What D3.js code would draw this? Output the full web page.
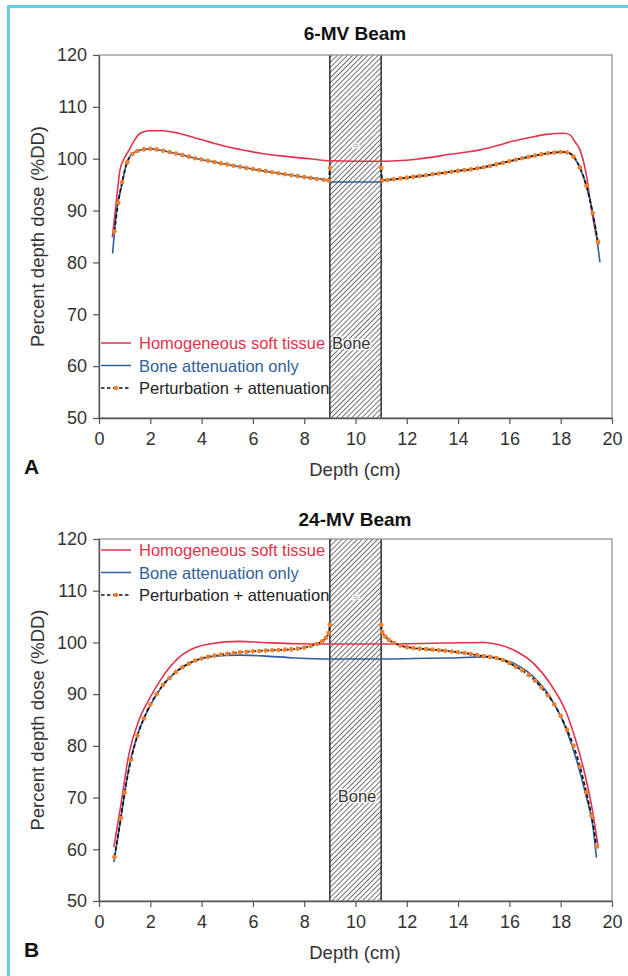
<!DOCTYPE html>
<html>
<head>
<meta charset="utf-8">
<script src="https://cdn.jsdelivr.net/npm/d3@7"></script>
<style>
  body { margin: 0; background: #fff; }
  svg { display: block; font-family: "Liberation Sans", Arial, sans-serif; }
</style>
</head>
<body>
<div id="chart"></div>
<script>
// ---- data: [depth cm, %DD] ----
var depthTicks = [0, 2, 4, 6, 8, 10, 12, 14, 16, 18, 20];
var doseTicks = [50, 60, 70, 80, 90, 100, 110, 120];
var boneRange = [9, 11];
var seriesNames = ["Homogeneous soft tissue", "Bone attenuation only", "Perturbation + attenuation"];

// 6-MV beam
var softA = [[0.52,84.8],[0.7,93],[0.82,97.9],[0.99,100.1],[1.14,101.4],[1.35,103.3],[1.53,104.6],[1.75,105.2],[1.95,105.4],[2.45,105.4],
  [3.1,104.9],[3.75,104.0],[4.4,103.1],[5.05,102.25],[5.7,101.6],[6.35,101.0],[7.0,100.6],[7.65,100.25],[8.3,99.95],[9.0,99.6],
  [11.0,99.5],[11.6,99.6],[12.3,99.85],[13.0,100.3],[13.6,100.8],[14.2,101.2],[14.85,101.7],[15.5,102.5],[16.15,103.4],[16.8,104.1],
  [17.45,104.7],[18.1,104.9],[18.36,104.6],[18.55,103.3],[18.75,101.7],[19.01,96.6],[19.2,90.2],[19.4,85.0],[19.5,83.5]];
var boneA = [[0.53,81.7],[0.69,90.2],[0.88,94.7],[1.08,99.2],[1.27,100.8],[1.53,101.6],[1.99,101.9],[2.44,101.6],[3.1,100.9],[3.74,100.1],
  [4.4,99.45],[5.04,98.85],[5.7,98.25],[6.34,97.7],[7.0,97.2],[7.64,96.7],[8.3,96.25],[8.95,95.8],[9.05,95.5],[10.95,95.5],
  [11.05,95.8],[11.6,96.1],[12.3,96.5],[13.0,97.0],[13.6,97.4],[14.2,97.8],[14.85,98.2],[15.5,99.0],[16.15,99.7],[16.8,100.4],
  [17.45,101.0],[18.1,101.3],[18.36,101.1],[18.62,99.5],[18.88,96.6],[19.14,92.1],[19.34,87],[19.53,80]];
var pertA1 = [[0.6,86],[0.75,91.5],[0.9,95.5],[1.1,99.3],[1.3,100.9],[1.5,101.5],[1.75,101.8],[2.0,101.9],[2.25,101.8],[2.5,101.55],
  [2.75,101.3],[3.0,101.0],[3.25,100.7],[3.5,100.4],[3.75,100.1],[4.0,99.85],[4.25,99.6],[4.5,99.35],[4.75,99.1],[5.0,98.9],
  [5.25,98.65],[5.5,98.45],[5.75,98.2],[6.0,98.0],[6.25,97.8],[6.5,97.6],[6.75,97.4],[7.0,97.2],[7.25,97.0],[7.5,96.8],
  [7.75,96.65],[8.0,96.45],[8.25,96.3],[8.5,96.1],[8.75,95.95],[8.95,95.8],[9.0,98.2]];
var pertA2 = [[11.0,98.2],[11.05,95.8],[11.25,95.9],[11.5,96.05],[11.75,96.2],[12.0,96.35],[12.25,96.5],[12.5,96.65],[12.75,96.8],[13.0,97.0],
  [13.25,97.15],[13.5,97.3],[13.75,97.5],[14.0,97.65],[14.25,97.8],[14.5,97.95],[14.75,98.15],[15.0,98.35],[15.25,98.6],[15.5,98.9],
  [15.75,99.2],[16.0,99.5],[16.25,99.8],[16.5,100.1],[16.75,100.35],[17.0,100.6],[17.25,100.85],[17.5,101.05],[17.75,101.2],[18.0,101.3],
  [18.25,101.2],[18.5,100.4],[18.75,98.3],[19.0,94.8],[19.25,89.5],[19.45,84]];

// 24-MV beam
var softB = [[0.58,60.4],[0.84,68.2],[1.17,78.5],[1.56,85],[2.01,89.5],[2.46,93.2],[3.1,97.0],[3.76,99.0],[4.41,99.8],[5.45,100.2],
  [6.36,100.0],[7.65,99.75],[8.95,99.7],[11.05,99.7],[12.0,99.75],[13.0,99.85],[13.68,99.9],[14.98,100.0],[15.63,99.5],[16.28,98.25],
  [16.93,96],[17.58,92.1],[18.23,86.3],[18.62,80.5],[19.0,73.3],[19.26,66.9],[19.46,60.4]];
var boneB = [[0.58,57.5],[0.84,65.6],[1.17,75.9],[1.56,83],[2.01,87.9],[2.46,91.5],[3.1,94.7],[3.76,96.5],[4.41,97.3],[5.45,97.55],
  [6.36,97.4],[7.65,97.0],[8.95,96.8],[11.05,96.8],[12.3,96.9],[13.68,97.0],[14.98,97.2],[15.63,96.8],[16.28,95.7],[16.93,93.4],
  [17.58,89.5],[18.23,83],[18.62,77.2],[19.0,70.1],[19.26,64.3],[19.39,58.4]];
var pertB1 = [[0.6,58.5],[0.85,66],[1.0,71],[1.25,77.3],[1.5,82],[1.75,85.3],[2.0,88],[2.25,90],[2.5,91.8],[2.75,93.1],
  [3.0,94.3],[3.25,95.2],[3.5,95.9],[3.75,96.5],[4.0,96.9],[4.25,97.2],[4.5,97.45],[4.75,97.65],[5.0,97.8],[5.25,97.95],
  [5.5,98.1],[5.75,98.2],[6.0,98.3],[6.25,98.35],[6.5,98.45],[6.75,98.5],[7.0,98.55],[7.25,98.6],[7.5,98.65],[7.75,98.8],
  [8.0,99.0],[8.25,99.3],[8.5,99.7],[8.7,100.2],[8.85,100.9],[8.95,101.8],[9.0,103.4]];
var pertB2 = [[11.0,103.4],[11.05,102],[11.15,101.2],[11.3,100.5],[11.5,99.9],[11.75,99.4],[12.0,99.1],[12.25,98.9],[12.5,98.8],[12.75,98.7],
  [13.0,98.6],[13.25,98.5],[13.5,98.4],[13.75,98.25],[14.0,98.1],[14.25,97.95],[14.5,97.75],[14.75,97.55],[15.0,97.35],[15.25,97.2],
  [15.5,97.0],[15.75,96.6],[16.0,96.0],[16.25,95.3],[16.5,94.6],[16.75,93.7],[17.0,92.6],[17.25,91.3],[17.5,89.8],[17.75,88.0],
  [18.0,85.8],[18.25,83.1],[18.5,80.0],[18.75,76.0],[19.0,71.0],[19.2,66.5],[19.4,60.5]];

var red = "#e5324b", blue = "#2f5f9a", orange = "#f07f2e";

var width = 628, height = 976;
var svg = d3.select("#chart").append("svg")
    .attr("width", width).attr("height", height);

svg.append("rect").attr("width", width).attr("height", height).attr("fill", "#fff");

// hatch for the bone slab
var defs = svg.append("defs");
defs.append("pattern")
    .attr("id", "hatch")
    .attr("patternUnits", "userSpaceOnUse")
    .attr("width", 3.6).attr("height", 3.6)
    .attr("patternTransform", "rotate(45)")
    .append("line")
    .attr("x1", 0).attr("y1", 0).attr("x2", 0).attr("y2", 3.6)
    .attr("stroke", "#2a2a2a").attr("stroke-width", 1.3);

// cyan frame round the figure
svg.append("path")
    .attr("d", "M8.5,976 L8.5,6.5 L628,6.5")
    .attr("fill", "none")
    .attr("stroke", "#5bd3e7")
    .attr("stroke-width", 3);

function drawPanel(p) {
    var x = d3.scaleLinear().domain([0, 20]).range([99, 612]);
    var y = d3.scaleLinear().domain([50, 120]).range([p.bottom, p.top]);
    var g = svg.append("g");

    // bone slab
    g.append("rect")
        .attr("x", x(boneRange[0])).attr("y", y(120))
        .attr("width", x(boneRange[1]) - x(boneRange[0]))
        .attr("height", y(50) - y(120))
        .attr("fill", "url(#hatch)");
    boneRange.forEach(function(b) {
        g.append("line")
            .attr("x1", x(b)).attr("x2", x(b))
            .attr("y1", y(120)).attr("y2", y(50))
            .attr("stroke", "#222").attr("stroke-width", 1.4);
    });
    g.append("text")
        .attr("x", x(10)).attr("y", y(p.tildeAt))
        .attr("text-anchor", "middle")
        .attr("font-size", 11).attr("fill", "#aaa")
        .attr("stroke", "#fff").attr("stroke-width", 2).attr("paint-order", "stroke")
        .text("≈");

    // frame
    g.append("rect")
        .attr("x", x(0)).attr("y", y(120))
        .attr("width", x(20) - x(0)).attr("height", y(50) - y(120))
        .attr("fill", "none").attr("stroke", "#8a8a8a").attr("stroke-width", 1.2);

    // axes
    var ax = g.append("g")
        .attr("transform", "translate(0," + y(50) + ")")
        .call(d3.axisBottom(x).tickValues(depthTicks).tickSize(6).tickPadding(8).tickSizeOuter(0));
    var ay = g.append("g")
        .attr("transform", "translate(" + x(0) + ",0)")
        .call(d3.axisLeft(y).tickValues(doseTicks).tickSize(6).tickPadding(6).tickSizeOuter(0));
    [ax, ay].forEach(function(a) {
        a.select(".domain").attr("stroke", "#555").attr("stroke-width", 1.3);
        a.selectAll(".tick line").attr("stroke", "#555").attr("stroke-width", 1.2);
        a.selectAll(".tick text").attr("font-size", 18).attr("fill", "#333")
            .attr("font-family", "Liberation Sans, Arial, sans-serif");
    });

    // curves
    var line = d3.line()
        .x(function(d) { return x(d[0]); })
        .y(function(d) { return y(d[1]); })
        .curve(d3.curveMonotoneX);

    g.append("path").datum(p.soft)
        .attr("fill", "none").attr("stroke", red).attr("stroke-width", 1.6)
        .attr("d", line);
    g.append("path").datum(p.bone)
        .attr("fill", "none").attr("stroke", blue).attr("stroke-width", 1.6)
        .attr("d", line);
    p.pert.forEach(function(seg) {
        g.append("path").datum(seg)
            .attr("fill", "none").attr("stroke", "#111").attr("stroke-width", 1.7)
            .attr("stroke-dasharray", "4,2.5")
            .attr("d", line);
        g.selectAll(null).data(seg).enter().append("circle")
            .attr("cx", function(d) { return x(d[0]); })
            .attr("cy", function(d) { return y(d[1]); })
            .attr("r", 2.3)
            .attr("fill", orange);
    });

    // legend
    var lg = g.append("g");
    var colors = [red, blue, "#222"];
    seriesNames.forEach(function(name, i) {
        var ly = p.legendY + i * 22.5;
        lg.append("line")
            .attr("x1", 101).attr("x2", 131).attr("y1", ly).attr("y2", ly)
            .attr("stroke", i < 2 ? colors[i] : "#111")
            .attr("stroke-width", 1.5)
            .attr("stroke-dasharray", i == 2 ? "3.5,2.5" : null);
        if (i == 2) {
            lg.append("circle").attr("cx", 116).attr("cy", ly).attr("r", 2.3).attr("fill", orange);
        }
        lg.append("text")
            .attr("x", 139).attr("y", ly + 6)
            .attr("font-size", 16.5)
            .attr("fill", i == 0 ? red : (i == 1 ? blue : "#222"))
            .text(name);
    });

    // bone label
    g.append("text")
        .attr("x", p.boneLabel[0]).attr("y", p.boneLabel[1])
        .attr("text-anchor", p.boneAnchor)
        .attr("font-size", 16.5).attr("fill", "#333")
        .attr("stroke", "#fff").attr("stroke-width", 2.5)
        .attr("paint-order", "stroke")
        .text("Bone");

    // titles and labels
    svg.append("text")
        .attr("x", 355).attr("y", p.titleY)
        .attr("text-anchor", "middle")
        .attr("font-size", 19).attr("font-weight", "bold").attr("fill", "#111")
        .text(p.title);
    svg.append("text")
        .attr("transform", "translate(44," + (y(85)) + ") rotate(-90)")
        .attr("text-anchor", "middle")
        .attr("font-size", 18.5).attr("fill", "#333")
        .text("Percent depth dose (%DD)");
    svg.append("text")
        .attr("x", 355).attr("y", y(50) + 58)
        .attr("text-anchor", "middle")
        .attr("font-size", 18.5).attr("fill", "#333")
        .text("Depth (cm)");
    svg.append("text")
        .attr("x", 24).attr("y", y(50) + 56)
        .attr("font-size", 21).attr("font-weight", "bold").attr("fill", "#111")
        .text(p.letter);
}

drawPanel({
    title: "6-MV Beam", letter: "A", top: 55, bottom: 418, titleY: 40,
    soft: softA, bone: boneA, pert: [pertA1, pertA2],
    legendY: 343, boneLabel: [332, 349], boneAnchor: "start", tildeAt: 101.8
});
drawPanel({
    title: "24-MV Beam", letter: "B", top: 539, bottom: 901, titleY: 526,
    soft: softB, bone: boneB, pert: [pertB1, pertB2],
    legendY: 550, boneLabel: [357, 802], boneAnchor: "middle", tildeAt: 108
});
</script>
</body>
</html>
